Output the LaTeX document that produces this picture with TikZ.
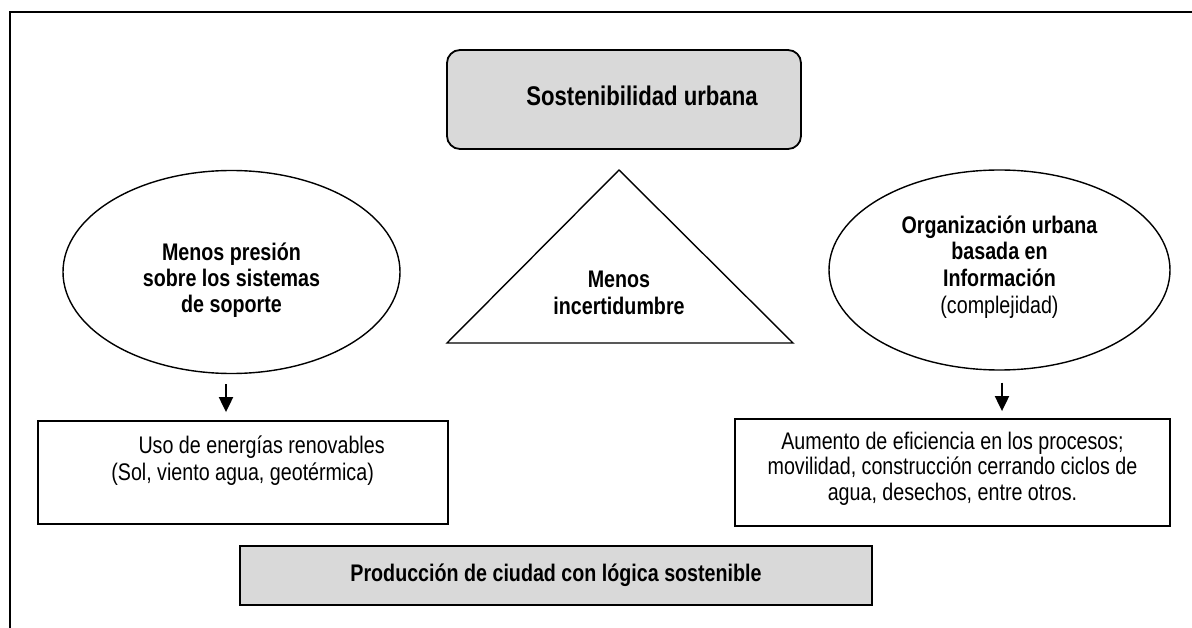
\documentclass[tikz,border=0pt]{standalone}
\usepackage{fontspec}
\setmainfont[FakeStretch=0.82]{Liberation Sans}
\usetikzlibrary{shapes.geometric,arrows.meta}
\definecolor{boxgray}{HTML}{D9D9D9}
\newcommand\mystrutH[1]{\rule{0pt}{#1}}
\newcommand\mystrutD[1]{\rule[-#1]{0pt}{#1}}
\begin{document}
\begin{tikzpicture}[x=1pt,y=-1pt,
  txt/.style={font=\fontsize{24}{26}\selectfont, align=center, inner sep=0pt},
  btxt/.style={font=\fontsize{24}{26}\selectfont\bfseries, align=center, inner sep=0pt},
  boxline/.style={draw, line width=1.8pt},
  oval/.style={ellipse, draw, line width=1.4pt, inner sep=0pt},
  arr/.style={line width=2pt, -{Triangle[length=15pt,width=14pt]}}]
\useasboundingbox (0,0) rectangle (1192,628);
% frame
\draw[line width=2pt] (10,640) -- (10,12) -- (1200,12);
% top box
\node[boxline, rounded corners=13pt, fill=boxgray, minimum width=354pt, minimum height=99pt,
  inner sep=0pt, font=\fontsize{27}{31}\selectfont\bfseries] (top) at (624,99.5)
  {\hspace*{36pt}Sostenibilidad urbana\rule[-9pt]{0pt}{31pt}};
% triangle
\coordinate (tA) at (619,170);
\coordinate (tL) at (447,343);
\coordinate (tR) at (793,343);
\draw[line width=1.4pt, line join=miter] (tA) -- (tL) -- (tR) -- cycle;
\node[btxt, font=\fontsize{24}{27}\selectfont\bfseries] (mi) at (619,294)
  {\mystrutH{25pt}Menos\\incertidumbre\mystrutD{10pt}};
% ellipses
\node[oval, btxt, minimum width=337pt, minimum height=203pt] (elL) at (231.5,272)
  {\mystrutH{36.2pt}Menos presión\\sobre los sistemas\\de soporte\mystrutD{7pt}};
\node[oval, btxt, font=\fontsize{24}{26.8}\selectfont\bfseries, minimum width=341pt, minimum height=200pt] (elR) at (999.5,270)
  {\mystrutH{25pt}Organización urbana\\basada en\\Información\\{\mdseries(complejidad)}\mystrutD{18.5pt}};
% boxes
\node[boxline, txt, font=\fontsize{24}{27}\selectfont, minimum width=410pt, minimum height=103pt] (boxL) at (242.6,472.5)
  {\hspace*{38pt}\mystrutH{25pt}Uso de energías renovables\\(Sol, viento agua, geotérmica)\mystrutD{37pt}};
\node[boxline, txt, font=\fontsize{24}{25.6}\selectfont, minimum width=435pt, minimum height=107pt] (boxR) at (952.5,472.5)
  {\mystrutH{25pt}Aumento de eficiencia en los procesos;\\movilidad, construcción cerrando ciclos de\\agua, desechos, entre otros.\mystrutD{20.2pt}};
\node[boxline, btxt, fill=boxgray, minimum width=632pt, minimum height=59pt] (prod) at (556,575.5)
  {Producción de ciudad con lógica sostenible};
% arrows
\draw[arr, shorten <=10pt, shorten >=8pt] ([xshift=-5.5pt]elL.south) -- ([xshift=-5.5pt]elL.south |- boxL.north);
\draw[arr, shorten <=12pt, shorten >=7pt] ([xshift=2.5pt]elR.south) -- ([xshift=2.5pt]elR.south |- boxR.north);
\end{tikzpicture}
\end{document}
